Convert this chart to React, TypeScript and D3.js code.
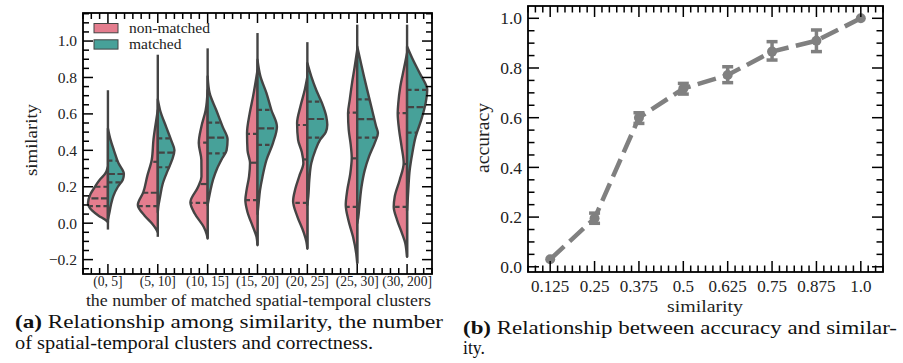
import React from 'react';
import * as d3 from 'd3';

// ---- left chart: split violins (similarity by number of matched clusters) ----
const clusterBins = ['(0, 5]', '(5, 10]', '(10, 15]', '(15, 20]', '(20, 25]', '(25, 30]', '(30, 200]'];
const hueNames = ['non-matched', 'matched'];

// extent of each violin (top, bottom of the centre line)
const violinTop = [0.73, 0.925, 0.96, 1.044, 0.994, 1.09, 1.09];
const violinBottom = [-0.035, -0.075, -0.084, -0.121, -0.14, -0.22, -0.185];

// density profiles: [similarity, density]
const nonMatchedDensity = [
  [[0.31, 0], [0.27, 3], [0.24, 8], [0.2, 13], [0.16, 17.5], [0.11, 20], [0.07, 16], [0.04, 9], [0.02, 3], [0.005, 0]],
  [[0.62, 0], [0.56, 1.7], [0.46, 4.3], [0.35, 6], [0.26, 10.5], [0.17, 14.5], [0.1, 20], [0.04, 13], [0.0, 6], [-0.03, 2], [-0.05, 0]],
  [[0.73, 0], [0.62, 2], [0.53, 6.3], [0.44, 8.9], [0.347, 6.3], [0.255, 6.2], [0.2, 9.5], [0.115, 17.3], [0.053, 13], [-0.02, 4], [-0.06, 1], [-0.084, 0]],
  [[0.84, 0], [0.695, 4.5], [0.604, 7.8], [0.494, 10.5], [0.4, 10], [0.33, 7.5], [0.255, 8.5], [0.18, 11], [0.127, 12.2], [0.06, 10], [-0.02, 4.6], [-0.075, 1], [-0.121, 0]],
  [[0.805, 0], [0.73, 2.7], [0.64, 7], [0.549, 10.3], [0.457, 9.3], [0.39, 5.5], [0.33, 4], [0.26, 8], [0.19, 12], [0.12, 14.3], [0.04, 10.3], [-0.05, 3.7], [-0.1, 1], [-0.14, 0]],
  [[0.952, 0], [0.86, 2.5], [0.769, 5.2], [0.677, 7.5], [0.604, 9.2], [0.512, 8.5], [0.43, 6.5], [0.36, 5.5], [0.27, 7], [0.18, 10], [0.1, 11.5], [0.02, 9], [-0.075, 4.2], [-0.167, 1], [-0.22, 0]],
  [[0.934, 0], [0.842, 3.4], [0.75, 6.8], [0.659, 8.8], [0.604, 9.4], [0.512, 8], [0.42, 5.5], [0.33, 3.4], [0.237, 7.4], [0.145, 12.4], [0.09, 13.4], [0.017, 10], [-0.057, 5], [-0.11, 1.8], [-0.16, 0.5], [-0.185, 0]],
];
const matchedDensity = [
  [[0.52, 0], [0.46, 2.5], [0.4, 6], [0.33, 10.5], [0.27, 16], [0.24, 15], [0.2, 10], [0.15, 5.5], [0.1, 3], [0.05, 1.2], [0.02, 0]],
  [[0.68, 0], [0.62, 2.3], [0.53, 8.3], [0.457, 13.3], [0.4, 16.7], [0.347, 14.3], [0.29, 10], [0.218, 5], [0.145, 2.3], [0.09, 0.5], [0.06, 0]],
  [[0.805, 0], [0.714, 2], [0.62, 8.7], [0.53, 15], [0.46, 20], [0.4, 19], [0.35, 14], [0.3, 9.5], [0.24, 5.5], [0.18, 2.8], [0.13, 1], [0.1, 0]],
  [[0.897, 0], [0.805, 3], [0.714, 9], [0.62, 14], [0.53, 19.5], [0.44, 15.5], [0.347, 9], [0.255, 5], [0.18, 2.5], [0.1, 1], [0.05, 0]],
  [[0.879, 0], [0.805, 4], [0.73, 9], [0.659, 14.7], [0.585, 19], [0.54, 20], [0.5, 18.5], [0.46, 13], [0.4, 8], [0.33, 4], [0.24, 2], [0.15, 1], [0.1, 0]],
  [[0.97, 0], [0.897, 3], [0.805, 6.8], [0.714, 10.8], [0.62, 15], [0.53, 19], [0.495, 20.8], [0.44, 17.5], [0.365, 11.8], [0.29, 7.5], [0.2, 4.3], [0.1, 2.3], [0.03, 1], [0.0, 0]],
  [[0.97, 0], [0.897, 5.9], [0.824, 12.6], [0.732, 20.2], [0.659, 18.6], [0.567, 14.2], [0.475, 8.6], [0.383, 5.2], [0.29, 2.6], [0.18, 1.2], [0.07, 0]],
];

// quartiles [q1, median, q3]
const nonMatchedQuartiles = [
  [0.094, 0.136, 0.2], [0.094, 0.167, 0.337], [0.112, 0.215, 0.442], [0.127, 0.332, 0.49],
  [0.112, 0.35, 0.539], [0.09, 0.356, 0.607], [0.09, 0.325, 0.604],
];
const matchedQuartiles = [
  [0.224, 0.27, 0.343], [0.307, 0.387, 0.466], [0.383, 0.47, 0.552], [0.43, 0.52, 0.622],
  [0.47, 0.572, 0.667], [0.47, 0.571, 0.68], [0.497, 0.637, 0.732],
];
const leftYTicks = [-0.2, 0, 0.2, 0.4, 0.6, 0.8, 1.0];

// ---- right chart: accuracy vs similarity ----
const simLabels = ['0.125', '0.25', '0.375', '0.5', '0.625', '0.75', '0.875', '1.0'];
const accuracy = [0.03, 0.195, 0.6, 0.717, 0.772, 0.866, 0.91, 1.0];
const accLow = [0.03, 0.175, 0.577, 0.695, 0.741, 0.832, 0.866, 1.0];
const accHigh = [0.03, 0.216, 0.62, 0.738, 0.805, 0.906, 0.953, 1.0];
const rightYTicks = [0, 0.2, 0.4, 0.6, 0.8, 1.0];

const FONT = "'Liberation Serif', 'Times New Roman', serif";
const PINK = '#E47D8E';
const TEAL = '#47A199';
const EDGE = '#444444';
const GREY = '#808080';

const fmt = d3.format('.1f');

type Tick = { pos: number; major: boolean };

function frameTicks(
  xs: Tick[], ys: Tick[], x0: number, x1: number, y0: number, y1: number,
  maj: number, min: number
) {
  const out: JSX.Element[] = [];
  xs.forEach((t, i) => {
    const l = t.major ? maj : min;
    out.push(<line key={'xb' + i} x1={t.pos} x2={t.pos} y1={y1} y2={y1 - l} />);
    out.push(<line key={'xt' + i} x1={t.pos} x2={t.pos} y1={y0} y2={y0 + l} />);
  });
  ys.forEach((t, i) => {
    const l = t.major ? maj : min;
    out.push(<line key={'yl' + i} x1={x0} x2={x0 + l} y1={t.pos} y2={t.pos} />);
    out.push(<line key={'yr' + i} x1={x1} x2={x1 - l} y1={t.pos} y2={t.pos} />);
  });
  return out;
}

function LeftChart() {
  const x0 = 83, x1 = 432, y0 = 13, y1 = 274;
  const x = d3.scaleLinear().domain([-0.5, 6.5]).range([x0, x1]);
  const y = d3.scaleLinear().domain([-0.279, 1.154]).range([y1, y0]);
  const step = x(1) - x(0);
  const w = d3.scaleLinear().domain([0, 20]).range([0, 0.4 * step]);

  const halves = [
    { dens: nonMatchedDensity, q: nonMatchedQuartiles, color: PINK, sign: -1 },
    { dens: matchedDensity, q: matchedQuartiles, color: TEAL, sign: 1 },
  ];

  const xTicks: Tick[] = d3.range(-3, 40).map(k => ({ pos: x(k / 6), major: k % 6 === 0 }));
  const yTicks: Tick[] = d3.range(-5, 24).map(k => ({ pos: y(k * 0.05), major: k % 4 === 0 }));

  return (
    <g>
      {clusterBins.map((_, i) => {
        const cx = x(i);
        return (
          <g key={i}>
            <line x1={cx} x2={cx} y1={y(violinTop[i])} y2={y(violinBottom[i])} stroke={EDGE} strokeWidth={2.4} />
            {halves.map((h, j) => {
              const prof = h.dens[i];
              const area = d3.area<number[]>()
                .y(d => y(d[0]))
                .x0(cx)
                .x1(d => cx + h.sign * w(d[1]))
                .curve(d3.curveMonotoneY);
              const interp = d3.scaleLinear().domain(prof.map(d => d[0])).range(prof.map(d => d[1])).clamp(true);
              return (
                <g key={j}>
                  <path d={area(prof) || ''} fill={h.color} stroke={EDGE} strokeWidth={2.4} strokeLinejoin="round" />
                  {h.q[i].map((qv, k) => (
                    <line key={k} x1={cx} x2={cx + h.sign * w(interp(qv))} y1={y(qv)} y2={y(qv)}
                      stroke={EDGE} strokeWidth={2.2}
                      strokeDasharray={k === 1 ? '7 2.5' : '4.5 3'} />
                  ))}
                </g>
              );
            })}
          </g>
        );
      })}

      {/* legend */}
      {hueNames.map((n, i) => (
        <g key={n}>
          <rect x={94} y={23.5 + i * 16.3} width={24} height={9.3} fill={i === 0 ? PINK : TEAL} stroke={EDGE} strokeWidth={1} />
          <text x={129} y={32.5 + i * 16.3} fontFamily={FONT} fontSize={15.5} fill="#222">{n}</text>
        </g>
      ))}

      <rect x={x0} y={y0} width={x1 - x0} height={y1 - y0} fill="none" stroke="#000" strokeWidth={1.8} />
      <g stroke="#000" strokeWidth={1.5}>
        {frameTicks(xTicks, yTicks, x0, x1, y0, y1, 10, 6)}
      </g>

      {leftYTicks.map(t => (
        <text key={t} x={77} y={y(t)} dy="0.35em" textAnchor="end" fontFamily={FONT} fontSize={15.5} fill="#222">{fmt(t)}</text>
      ))}
      {clusterBins.map((c, i) => (
        <text key={c} x={x(i)} y={286} textAnchor="middle" fontFamily={FONT} fontSize={13.6} fill="#222">{c}</text>
      ))}
      <text x={258.4} y={306} textAnchor="middle" fontFamily={FONT} fontSize={16} textLength={345} lengthAdjust="spacingAndGlyphs" fill="#222">
        the number of matched spatial-temporal clusters
      </text>
      <text transform="translate(37,140) rotate(-90)" textAnchor="middle" fontFamily={FONT} fontSize={17} textLength={72} lengthAdjust="spacingAndGlyphs" fill="#222">
        similarity
      </text>
    </g>
  );
}

function RightChart() {
  const x0 = 528, x1 = 883, y0 = 6, y1 = 272;
  const x = d3.scaleLinear().domain([-0.5, 7.5]).range([x0, x1]);
  const y = d3.scaleLinear().domain([-0.021, 1.0495]).range([y1, y0]);
  const line = d3.line<number>().x((_, i) => x(i)).y(d => y(d));

  const xTicks: Tick[] = d3.range(-3, 46).map(k => ({ pos: x(k / 6), major: k % 6 === 0 }));
  const yTicks: Tick[] = d3.range(0, 21).map(k => ({ pos: y(k * 0.05), major: k % 4 === 0 }));

  return (
    <g>
      <path d={line(accuracy) || ''} fill="none" stroke={GREY} strokeWidth={4.5} strokeDasharray="19 7.5" />
      {accuracy.map((a, i) => (
        <g key={i} stroke={GREY} fill={GREY}>
          {accHigh[i] - accLow[i] > 0.001 && (
            <g strokeWidth={3.5}>
              <line x1={x(i)} x2={x(i)} y1={y(accLow[i])} y2={y(accHigh[i])} />
              <line x1={x(i) - 5.5} x2={x(i) + 5.5} y1={y(accLow[i])} y2={y(accLow[i])} />
              <line x1={x(i) - 5.5} x2={x(i) + 5.5} y1={y(accHigh[i])} y2={y(accHigh[i])} />
            </g>
          )}
          <circle cx={x(i)} cy={y(a)} r={5} stroke="none" />
        </g>
      ))}

      <rect x={x0} y={y0} width={x1 - x0} height={y1 - y0} fill="none" stroke="#000" strokeWidth={1.8} />
      <g stroke="#000" strokeWidth={1.5}>
        {frameTicks(xTicks, yTicks, x0, x1, y0, y1, 11, 6.5)}
      </g>

      {rightYTicks.map(t => (
        <text key={t} x={522} y={y(t)} dy="0.35em" textAnchor="end" fontFamily={FONT} fontSize={17.5} fill="#222">{fmt(t)}</text>
      ))}
      {simLabels.map((s, i) => (
        <text key={s} x={x(i)} y={291.5} textAnchor="middle" fontFamily={FONT} fontSize={17} fill="#222">{s}</text>
      ))}
      <text x={705} y={312} textAnchor="middle" fontFamily={FONT} fontSize={17.5} textLength={76} lengthAdjust="spacingAndGlyphs" fill="#222">similarity</text>
      <text transform="translate(489,138) rotate(-90)" textAnchor="middle" fontFamily={FONT} fontSize={18} textLength={70} lengthAdjust="spacingAndGlyphs" fill="#222">accuracy</text>
    </g>
  );
}

export default function App() {
  return (
    <svg width={903} height={363} viewBox="0 0 903 363"
      style={{ position: 'absolute', left: 0, top: 0, background: '#fff' }}>
      <LeftChart />
      <RightChart />
      <g fontFamily={FONT} fontSize={19.5} fill="#111">
        <text x={15} y={328} textLength={428} lengthAdjust="spacingAndGlyphs">
          <tspan fontWeight="bold">(a)</tspan> Relationship among similarity, the number
        </text>
        <text x={15} y={349} textLength={358} lengthAdjust="spacingAndGlyphs">of spatial-temporal clusters and correctness.</text>
        <text x={463} y={334} textLength={434} lengthAdjust="spacingAndGlyphs">
          <tspan fontWeight="bold">(b)</tspan> Relationship between accuracy and similar-
        </text>
        <text x={463} y={354} textLength={22} lengthAdjust="spacingAndGlyphs">ity.</text>
      </g>
    </svg>
  );
}
